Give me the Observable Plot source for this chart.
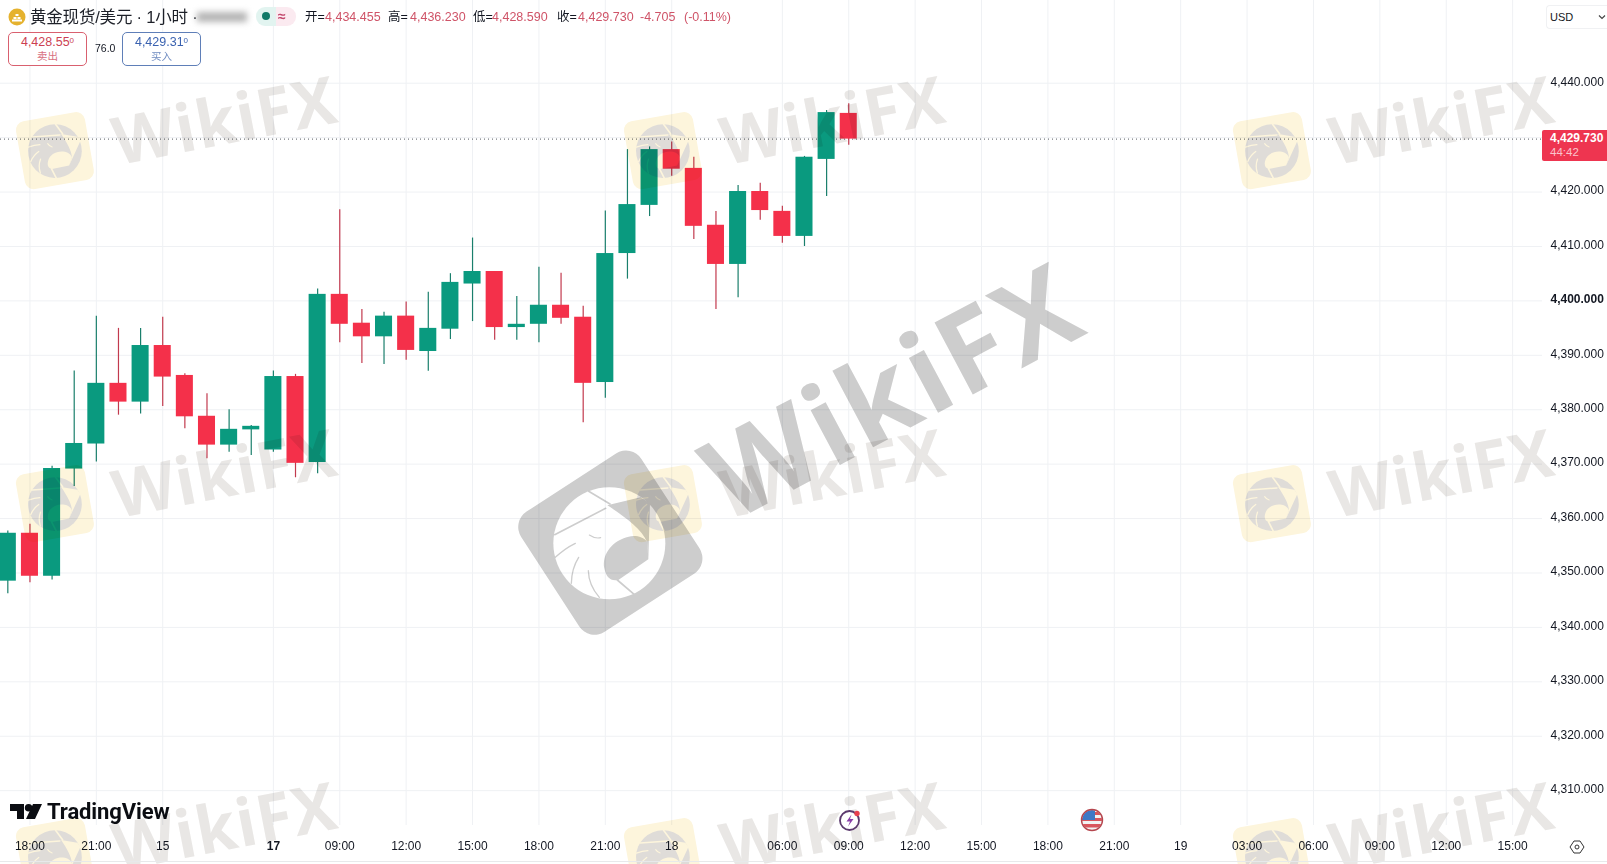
<!DOCTYPE html>
<html lang="zh">
<head>
<meta charset="utf-8">
<script src="https://cdn.jsdelivr.net/npm/d3@7"></script>
<script src="https://cdn.jsdelivr.net/npm/@observablehq/plot@0.6"></script>
<style>
html,body{margin:0;padding:0;background:#fff;width:1607px;height:864px;overflow:hidden}
body{position:relative;font-family:"Liberation Sans","Noto Sans CJK SC",sans-serif;color:#131722}
#chart{position:absolute;left:0;top:0}
.abs{position:absolute;white-space:nowrap}
.mul{mix-blend-mode:multiply}
.wm{position:absolute;white-space:nowrap;font-family:"Open Sans",sans-serif;font-weight:700;transform:translate(-50%,-50%) rotate(-11deg) scaleX(.98);line-height:1;color:#e9e7e5;letter-spacing:1px;font-size:66px;mix-blend-mode:multiply}
.red{color:#cf5468}
.box{position:absolute;top:32px;height:32px;width:77px;border-radius:5px;text-align:center;background:#fff}
.box .p{font-size:12.5px;line-height:13px;margin-top:3px;font-weight:400}
.box sup{font-size:8px;line-height:0;vertical-align:3px}
.box .s{font-size:10.5px;line-height:13px;margin-top:1px}
</style>
</head>
<body>
<div id="chart"></div>
<script>
const opens  = [4348.5,4357.3,4349.4,4369.1,4373.7,4384.85,4381.4,4391.8,4386.3,4378.8,4373.5,4376.3,4372.6,4386.1,4370.3,4401.2,4395.9,4393.4,4397.2,4390.7,4394.8,4403.1,4405.4,4395.1,4395.7,4399.2,4397.0,4385.0,4408.7,4417.55,4427.8,4424.35,4413.9,4406.7,4420.1,4416.45,4411.85,4426.0,4434.455];
const highs  = [4357.7,4358.95,4369.6,4387.1,4397.2,4394.95,4394.95,4397.0,4386.6,4382.95,4380.0,4377.1,4387.1,4386.5,4402.2,4416.75,4398.4,4397.9,4399.8,4401.6,4405.0,4411.55,4405.4,4400.8,4406.2,4405.1,4399.0,4416.5,4427.8,4428.3,4429.2,4426.4,4416.45,4421.2,4421.6,4417.4,4426.55,4435.0,4436.23];
const lows   = [4346.2,4348.2,4348.7,4365.9,4370.4,4379.0,4379.2,4380.6,4376.5,4371.0,4372.2,4371.6,4372.2,4367.5,4368.25,4392.3,4388.5,4388.3,4389.1,4387.05,4392.9,4396.2,4392.75,4392.75,4392.3,4395.7,4377.6,4382.1,4404.0,4415.5,4422.9,4411.3,4398.4,4400.6,4414.8,4410.6,4410.0,4419.2,4428.59];
const closes = [4357.3,4349.4,4369.2,4373.8,4384.85,4381.4,4391.8,4386.0,4378.7,4373.5,4376.4,4376.95,4386.1,4370.15,4401.2,4395.7,4393.4,4397.2,4390.9,4394.95,4403.4,4405.4,4395.1,4395.7,4399.2,4396.8,4384.85,4408.7,4417.7,4427.8,4424.2,4413.7,4406.7,4420.1,4416.6,4411.85,4426.4,4434.6,4429.73];
const priceTicks = [4310,4320,4330,4340,4350,4360,4370,4380,4390,4400,4410,4420,4430,4440];
const timeTickIndex = [1,4,7,12,15,18,21,24,27,30,35,38,41,44,47,50,53,56,59,62,65,68];
const timeTickLabel = ["18:00","21:00","15","17","09:00","12:00","15:00","18:00","21:00","18","06:00","09:00","12:00","15:00","18:00","21:00","19","03:00","06:00","09:00","12:00","15:00"];
const lastPrice = 4429.73;

const UP = "#0a9a7f", DOWN = "#f4304a", UPWICK = "#1a7f6c", DOWNWICK = "#c23a4e";
const candles = opens.map((o,i)=>({i,open:o,high:highs[i],low:lows[i],close:closes[i],x1:i-0.385,x2:i+0.385}));
const rising = candles.filter(d=>d.close>=d.open), falling = candles.filter(d=>d.close<d.open);
const labelOf = new Map(timeTickIndex.map((v,i)=>[v,timeTickLabel[i]]));
const priceFmt = d3.format(",.3f");

const plot = Plot.plot({
  width:1607,height:864,marginLeft:0,marginRight:65,marginTop:0,marginBottom:39,
  x:{type:"linear",domain:[-0.331,69.35],label:null},
  y:{type:"linear",domain:[4303.6,4455.2],label:null},
  style:{fontFamily:"'Liberation Sans',sans-serif",fontSize:"12px",background:"transparent",color:"#131722"},
  marks:[
    Plot.gridY(priceTicks,{stroke:"#eff1f4",strokeOpacity:1}),
    Plot.gridX(timeTickIndex,{stroke:"#eff1f4",strokeOpacity:1}),
    Plot.axisY(priceTicks.filter(d=>d!==4400),{anchor:"right",tickSize:0,tickPadding:8,textAnchor:"start",tickFormat:priceFmt,label:null,dy:-1.5}),
    Plot.axisY([4400],{anchor:"right",tickSize:0,tickPadding:8,textAnchor:"start",tickFormat:priceFmt,label:null,fontWeight:"bold",dy:-1.5}),
    Plot.axisX(timeTickIndex.filter(d=>d!==12),{anchor:"bottom",tickSize:0,tickPadding:16,tickFormat:d=>labelOf.get(d),label:null}),
    Plot.axisX([12],{anchor:"bottom",tickSize:0,tickPadding:16,tickFormat:d=>labelOf.get(d),label:null,fontWeight:"bold"}),
    Plot.ruleY([lastPrice],{stroke:"#555a60",strokeDasharray:"1 3",strokeWidth:1}),
    Plot.ruleX(rising,{x:"i",y1:"low",y2:"high",stroke:UPWICK,strokeWidth:1.2}),
    Plot.ruleX(falling,{x:"i",y1:"low",y2:"high",stroke:DOWNWICK,strokeWidth:1.2}),
    Plot.rect(rising,{x1:"x1",x2:"x2",y1:"open",y2:"close",fill:UP}),
    Plot.rect(falling,{x1:"x1",x2:"x2",y1:"open",y2:"close",fill:DOWN})
  ]
});
document.getElementById("chart").append(plot);

function el(html){const t=document.createElement("template");t.innerHTML=html.trim();const n=t.content.firstChild;document.body.append(n);return n;}

/* watermarks */
function eagle(disc,gap,w){
  return `<circle cx="298" cy="310" r="168" fill="${disc}"/>
  <g fill="none" stroke="${gap}" stroke-linecap="round">
    <path d="M134 284L287 205" stroke-width="${w}"/>
    <path d="M236 154L300 192" stroke-width="${w}"/>
    <path d="M322 420L376 466" stroke-width="${w}"/>
    <path d="M238 285Q256 297 272 293" stroke-width="${w*.7}"/>
    <path d="M136 352Q165 325 196 310" stroke-width="${w*.8}"/>
    <path d="M184 430Q185 385 206 352" stroke-width="${w*.8}"/>
    <path d="M268 472Q236 435 235 392" stroke-width="${w*.8}"/>
  </g>
  <path d="M292 196L392 172L420 190L415 358L411 305C395 268 345 230 292 196Z" fill="${gap}"/>
  <path d="M356 290C310 300 275 340 283 385C288 410 300 425 325 420L415 358L412 306C400 290 375 285 356 290Z" fill="${gap}"/>`;
}
function smallLogo(cx,cy){
  el(`<svg class="abs mul" style="left:${cx-50}px;top:${cy-50}px" width="100" height="100" viewBox="-14 -3 625 625">
  <rect x="80" y="92" width="437" height="430" rx="55" fill="#fdf5dc" transform="rotate(-10 298 310)"/>
  <g transform="rotate(23 298 310)">${eagle("#dfdcd8","#fdf5dc",10)}</g></svg>`);
}
for(const cy of [151,504,857]) for(const cx of [55,663,1272]){
  smallLogo(cx,cy);
  el(`<div class="wm" style="left:${cx+169}px;top:${cy-33}px">WikiFX</div>`);
}
el(`<svg class="abs mul" style="left:510px;top:440px" width="210" height="210" viewBox="0 0 630 630">
 <rect x="86" y="93" width="430" height="430" rx="55" fill="#cdcdcd" transform="rotate(-33 301 308)"/>
 ${eagle("#fff","#cdcdcd",5)}</svg>`);
el(`<div class="wm" style="left:891px;top:388px;font-size:114px;letter-spacing:3px;color:#cdcdcd;transform:translate(-50%,-50%) rotate(-28deg)">WikiFX</div>`);

/* header */
el(`<svg class="abs" style="left:8px;top:8px" width="18" height="18" viewBox="0 0 18 18"><circle cx="9" cy="9" r="8.5" fill="#e5b22e"/><path d="M4 12.5h10M5.5 10h3M9.5 10h3M7.5 7h3" stroke="#fff" stroke-width="2"/></svg>`);
el(`<div class="abs" style="left:30px;top:8px;font-size:16.5px;line-height:18px;letter-spacing:-.2px;color:#1d2028">黄金现货/美元 · 1小时 ·</div>`);
el(`<div class="abs" style="left:197px;top:12px;width:50px;height:10px;background:#b5b5b5;filter:blur(3px)"></div>`);
el(`<div class="abs" style="left:256px;top:7px;width:40px;height:19px;border-radius:9px;background:linear-gradient(90deg,#e2f4f0 50%,#fbeaf0 50%)"></div>`);
el(`<div class="abs" style="left:262px;top:12px;width:8px;height:8px;border-radius:50%;background:#107a68"></div>`);
el(`<div class="abs" style="left:278px;top:7px;font-size:14px;line-height:18px;font-weight:bold;color:#c2476c">≈</div>`);
const ohlc=[[305,"开=",0],[325,"4,434.455",1],[388,"高=",0],[410,"4,436.230",1],[473,"低=",0],[492,"4,428.590",1],[557,"收=",0],[578,"4,429.730",1],[640,"-4.705",1],[684,"(-0.11%)",1]];
for(const [x,t,r] of ohlc) el(`<div class="abs ${r?"red":""}" style="left:${x}px;top:9px;font-size:12.5px;line-height:16px">${t}</div>`);
el(`<div class="box" style="left:8px;border:1px solid #d9606f;color:#cc3f52"><div class="p">4,428.55<sup>0</sup></div><div class="s" style="color:#d8707f">卖出</div></div>`);
el(`<div class="abs" style="left:95px;top:42px;font-size:10.5px;line-height:13px">76.0</div>`);
el(`<div class="box" style="left:122px;border:1px solid #5f7fb8;color:#3a62b0"><div class="p">4,429.31<sup>0</sup></div><div class="s" style="color:#6e8bc0">买入</div></div>`);

/* right side */
el(`<div class="abs" style="left:1546px;top:5px;width:61px;height:24px;border:1px solid #f0f1f3;border-right:0;box-sizing:border-box;border-radius:4px 0 0 4px;font-size:11px;line-height:22px;padding-left:3px;background:#fff">USD</div>`);
el(`<svg class="abs" style="left:1598px;top:14px" width="8" height="6"><path d="M1 1.5L4 4.5L7 1.5" stroke="#444" stroke-width="1.2" fill="none"/></svg>`);
el(`<div class="abs" style="left:1542px;top:130px;width:65px;height:31px;background:#ee3550;border-radius:2px 0 0 2px"></div>`);
el(`<div class="abs" style="left:1550px;top:131px;font-size:12px;line-height:14px;font-weight:bold;color:#fff">4,429.730</div>`);
el(`<div class="abs" style="left:1550px;top:145px;font-size:11.5px;line-height:14px;color:#fbc4cc">44:42</div>`);

/* bottom */
el(`<div class="abs" style="left:0;top:861px;width:1607px;height:1px;background:#e8e9eb"></div>`);
el(`<svg class="abs" style="left:10px;top:803px" width="32" height="18" viewBox="0 0 32 18"><path d="M0 1h14v15H7V8H0z M23 1h9l-7 15h-9z" fill="#0b0d12"/><circle cx="18.6" cy="4.8" r="3.8" fill="#0b0d12"/></svg>`);
el(`<div class="abs" style="left:47px;top:799px;font-family:Roboto,sans-serif;font-weight:700;font-size:22px;line-height:26px;color:#0b0d12;letter-spacing:-.1px">TradingView</div>`);
el(`<svg class="abs" style="left:836px;top:806px" width="28" height="28" viewBox="0 0 28 28"><circle cx="13.5" cy="14.5" r="9.5" fill="#fff" stroke="#5c3a6e" stroke-width="1.8"/><path d="M15.5 8.5L10.5 15.5H14L12 20.5L17.5 13H14Z" fill="#8a3fa8"/><circle cx="21" cy="7.5" r="2.7" fill="#e8404f"/></svg>`);
el(`<svg class="abs" style="left:1079px;top:807px" width="26" height="26" viewBox="0 0 26 26"><defs><clipPath id="fc"><circle cx="13" cy="13" r="10"/></clipPath></defs><g clip-path="url(#fc)"><rect width="26" height="26" fill="#f2f2f2"/><rect y="5" width="26" height="3" fill="#d9545c"/><rect y="11" width="26" height="3" fill="#d9545c"/><rect y="17" width="26" height="3.5" fill="#d9545c"/><rect x="2" y="2" width="14" height="11" fill="#3d78c6"/></g><circle cx="13" cy="13" r="10.5" fill="none" stroke="#b5464e" stroke-width="1.4"/></svg>`);
el(`<svg class="abs" style="left:1569px;top:839px" width="16" height="16" viewBox="0 0 16 16"><path d="M5 2h6l4 6-4 6H5L1 8z" fill="none" stroke="#333" stroke-width="1"/><circle cx="8" cy="8" r="2" fill="none" stroke="#333"/></svg>`);
</script>
</body>
</html>
